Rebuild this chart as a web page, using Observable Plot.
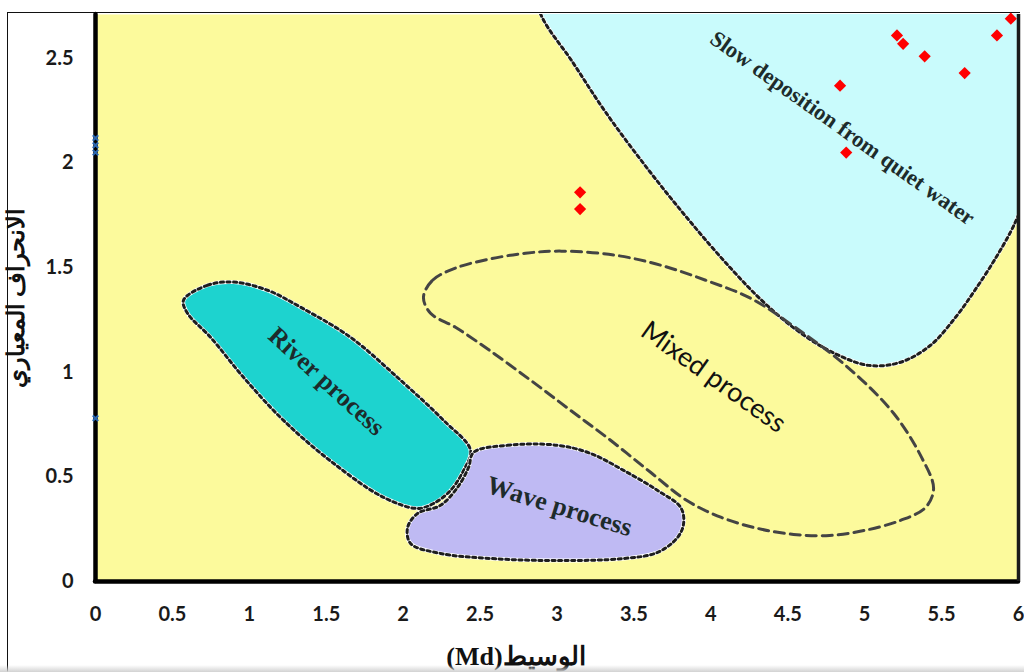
<!DOCTYPE html>
<html>
<head>
<meta charset="utf-8">
<script src="https://cdn.jsdelivr.net/npm/d3@7"></script>
<script src="https://cdn.jsdelivr.net/npm/@observablehq/plot@0.6"></script>
<style>
  html, body { margin: 0; padding: 0; background: #fff; }
  #page { position: relative; width: 1024px; height: 672px; overflow: hidden; }
  #border { position: absolute; left: 7px; top: 12px; width: 1013px; height: 670px;
            border-left: 1px solid #111; border-top: 1px solid #111; box-sizing: border-box; }
  #chart { position: absolute; left: 0; top: 0; }
  #shade { position: absolute; left: 0; top: 665px; width: 1024px; height: 7px;
           background: linear-gradient(#ffffff00, #d2d2d2); }
</style>
</head>
<body>
<div id="page">
  <div id="border"></div>
  <div id="chart"></div>
  <div id="shade"></div>
</div>
<script>
// Axis ticks
const xTicks = [0, 0.5, 1, 1.5, 2, 2.5, 3, 3.5, 4, 4.5, 5, 5.5, 6];
const yTicks = [0, 0.5, 1, 1.5, 2, 2.5];

// Samples: median (Md) and sorting (standard deviation)
const sampleMd = [5.21, 5.25, 5.39, 5.65, 5.86, 5.95, 4.84, 4.88, 3.15, 3.15];
const sampleSd = [2.61, 2.57, 2.51, 2.43, 2.61, 2.69, 2.37, 2.05, 1.86, 1.78];

// Samples sitting on the y axis
const axisSampleSd = [2.12, 2.085, 2.05, 0.78];

// Field boundaries [Md, sorting]
const slowBoundary = [
  [2.84, 2.9], [2.893, 2.713], [3.101, 2.483], [3.315, 2.244], [3.595, 1.967],
  [3.868, 1.718], [4.128, 1.498], [4.336, 1.34], [4.55, 1.206], [4.778, 1.1],
  [5.025, 1.033], [5.233, 1.048], [5.428, 1.129], [5.591, 1.263], [5.721, 1.397],
  [5.851, 1.545], [5.948, 1.67], [6.0, 1.751], [6.05, 1.83]
];
const slowOuter = [[6.6, 2.0], [6.6, 3.4], [2.7, 3.4]];

const riverBoundary = [
  [0.572, 1.344], [0.728, 1.416], [0.897, 1.431], [1.118, 1.392], [1.333, 1.311],
  [1.658, 1.167], [1.983, 0.962], [2.263, 0.77], [2.438, 0.627], [2.393, 0.531],
  [2.308, 0.435], [2.198, 0.373], [2.094, 0.349], [1.873, 0.402], [1.547, 0.565],
  [1.222, 0.77], [0.962, 0.976], [0.748, 1.167], [0.598, 1.282]
];

const waveBoundary = [
  [2.458, 0.617], [2.679, 0.651], [3.004, 0.651], [3.218, 0.612], [3.433, 0.531],
  [3.654, 0.435], [3.804, 0.354], [3.823, 0.278], [3.784, 0.211], [3.654, 0.139],
  [3.433, 0.11], [3.004, 0.1], [2.568, 0.11], [2.243, 0.134], [2.048, 0.182],
  [2.029, 0.258], [2.094, 0.325], [2.243, 0.364], [2.354, 0.45], [2.425, 0.545]
];

const mixedBoundary = [
  [2.132, 1.359], [2.191, 1.44], [2.34, 1.498], [2.561, 1.541], [2.795, 1.569],
  [3.029, 1.579], [3.374, 1.56], [3.673, 1.512], [3.966, 1.44], [4.258, 1.354],
  [4.538, 1.22], [4.882, 1.029], [5.188, 0.804], [5.37, 0.593], [5.448, 0.445],
  [5.396, 0.354], [5.233, 0.292], [4.999, 0.244], [4.772, 0.22], [4.538, 0.225],
  [4.303, 0.254], [4.069, 0.306], [3.842, 0.388], [3.608, 0.522], [3.348, 0.675],
  [3.088, 0.818], [2.828, 0.962], [2.561, 1.105], [2.34, 1.215], [2.178, 1.282]
];

// Field names, their anchor points, slant and size
const fieldNames = ["Slow deposition from quiet water", "River process", "Wave process"];
const fieldMd = [4.856, 1.502, 3.016];
const fieldSd = [2.167, 0.957, 0.359];
const fieldAngle = [35.3, 42.3, 17];
const fieldSize = [22.5, 25.5, 26];

const mixedName = ["Mixed process"];
const mixedMd = [4.017];
const mixedSd = [0.976];

const xTitle = "(Md)الوسيط";
const yTitle = "الانحراف المعياري";

const pt = (d) => ({x: d[0], y: d[1]});
const fields = fieldNames.map((t, i) => ({t, x: fieldMd[i], y: fieldSd[i], a: fieldAngle[i], s: fieldSize[i]}));
const samples = sampleMd.map((x, i) => ({x, y: sampleSd[i]}));
const axisSamples = axisSampleSd.map((y) => ({x: 0, y}));

// dark dashes over a white line
const dotted = (data, curve) => [
  Plot.line(data.map(pt), {x: "x", y: "y", curve, stroke: "#ffffff", strokeWidth: 4, clip: true}),
  Plot.line(data.map(pt), {x: "x", y: "y", curve, stroke: "#1e1e1e", strokeWidth: 3,
    strokeDasharray: "3.2,3.4", clip: true})
];

const chart = Plot.plot({
  width: 1024,
  height: 672,
  marginLeft: 95,
  marginRight: 6,
  marginTop: 14,
  marginBottom: 91,
  style: {background: "transparent", overflow: "visible"},
  x: {domain: [0, 6]},
  y: {domain: [0, 2.71]},
  marks: [
    Plot.frame({fill: "#fcfa9c", stroke: "none"}),

    // slow deposition field
    Plot.line(slowBoundary.concat(slowOuter).map(pt), {x: "x", y: "y", curve: "catmull-rom",
      fill: "#c9fbfc", stroke: "none", clip: true}),
    ...dotted(slowBoundary, "catmull-rom"),

    // river and wave fields
    Plot.line(riverBoundary.map(pt), {x: "x", y: "y", curve: "catmull-rom-closed",
      fill: "#1dd3cf", stroke: "none"}),
    ...dotted(riverBoundary, "catmull-rom-closed"),
    Plot.line(waveBoundary.map(pt), {x: "x", y: "y", curve: "catmull-rom-closed",
      fill: "#bfbaf3", stroke: "none"}),
    ...dotted(waveBoundary, "catmull-rom-closed"),

    // mixed field outline
    Plot.line(mixedBoundary.map(pt), {x: "x", y: "y", curve: "catmull-rom-closed",
      stroke: "#444444", strokeWidth: 3, strokeDasharray: "10,6"}),

    // field names
    Plot.text(fields, {x: "x", y: "y", text: "t", rotate: "a", fontSize: (d) => d.s,
      fontFamily: "Liberation Serif", fontWeight: "bold", fill: "#1d2b2b"}),
    Plot.text(mixedName, {x: mixedMd, y: mixedSd, text: (d) => d, rotate: 35.5, fontSize: 27,
      fontFamily: "Lato", fill: "#111"}),

    // axes
    Plot.axisX({ticks: xTicks, tickSize: 0, tickPadding: 25, tickFormat: (d) => String(d),
      fontSize: 20, fontWeight: "bold", fontFamily: "Lato", color: "#1a1a1a", label: null}),
    Plot.axisY({ticks: yTicks, tickSize: 0, tickPadding: 22, tickFormat: (d) => String(d),
      fontSize: 20, fontWeight: "bold", fontFamily: "Lato", color: "#1a1a1a", label: null}),
    Plot.ruleX([0], {stroke: "#000", strokeWidth: 4.5, y1: 0, y2: 2.71, strokeLinecap: "round"}),
    Plot.ruleY([0], {stroke: "#000", strokeWidth: 4.5, strokeLinecap: "round"}),
    Plot.ruleX([6], {stroke: "#1a1a1a", strokeWidth: 3.5}),

    // samples
    Plot.dot(samples, {x: "x", y: "y", symbol: "diamond2", r: 5.5, fill: "#ff0000", stroke: "none"}),
    Plot.dot(axisSamples, {x: "x", y: "y", symbol: "times", r: 2.6, stroke: "#2b67b0", strokeWidth: 2}),

    // axis titles
    Plot.text([yTitle], {frameAnchor: "left", textAnchor: "middle", dx: -79, rotate: -90,
      text: (d) => d, fontSize: 24, fontWeight: "bold", fontFamily: "Liberation Serif", fill: "#111"}),
    Plot.text([xTitle], {frameAnchor: "bottom", dx: -41, dy: 83, text: (d) => d,
      fontSize: 26, fontWeight: "bold", fontFamily: "Liberation Serif", fill: "#111"})
  ]
});

document.getElementById("chart").appendChild(chart);
</script>
</body>
</html>
